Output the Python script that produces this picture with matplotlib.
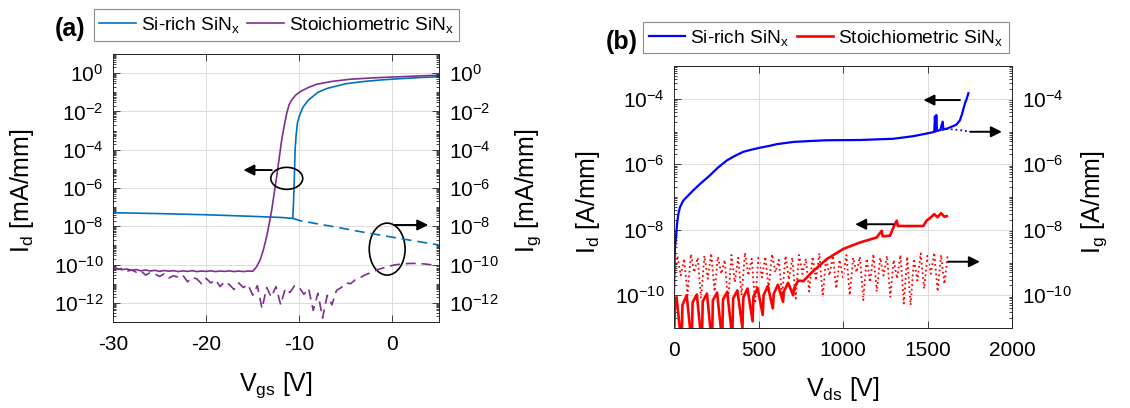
import numpy as np
import matplotlib
matplotlib.use("Agg")
import matplotlib.pyplot as plt
from matplotlib.patches import Ellipse
from matplotlib.ticker import LogLocator, NullFormatter

plt.rcParams['font.family'] = ['Liberation Sans', 'DejaVu Sans']
plt.rcParams['mathtext.fontset'] = 'custom'
plt.rcParams['mathtext.rm'] = 'Liberation Sans'
plt.rcParams['mathtext.it'] = 'Liberation Sans:italic'
plt.rcParams['mathtext.default'] = 'regular'
plt.rcParams['axes.unicode_minus'] = False

# ---------------- (a) transfer curves, Vds fixed ----------------
si_id_vgs = [-30, -25, -20, -15, -12, -10.7, -10.62, -10.55, -10.45, -10.35, -10.2,
             -10.0, -9.6, -9.0, -8.0, -7.0, -5.0, -3.0, -1.0, 1.0, 3.0, 5.0]
si_id = [5.1e-8, 4.6e-8, 4.0e-8, 3.3e-8, 2.9e-8, 2.6e-8, 1.6e-7, 1.6e-6, 1.0e-4, 5.0e-4,
         2.5e-3, 5.6e-3, 1.7e-2, 4.0e-2, 0.10, 0.16, 0.28, 0.37, 0.45, 0.52, 0.59, 0.65]

si_ig_vgs = [-10.7, -9.9, -6.3, -2.8, 0.8, 5.0]
si_ig = [2.6e-8, 1.95e-8, 9.5e-9, 4.6e-9, 2.3e-9, 1.05e-9]

st_id_vgs = [-30, -29.5, -29, -28.5, -28, -27.5, -27, -26.5, -26, -25.5, -25, -24.5, -24,
             -23.5, -23, -22.5, -22, -21.5, -21, -20.5, -20, -19.5, -19, -18.5, -18, -17.5,
             -17, -16.5, -16, -15.5, -15, -14.9, -14.6, -14.2, -13.85, -13.5, -13.2, -12.96,
             -12.43, -11.89, -11.6, -11.35, -11.1, -10.81, -10.4, -9.92, -9.0, -8.13, -6.5,
             -4.55, -2.0, 0.81, 3.0, 5.0]
st_id = [7.6e-11, 6.0e-11, 5.4e-11, 5.9e-11, 5.0e-11, 5.5e-11, 4.7e-11, 5.2e-11, 4.6e-11,
         5.0e-11, 4.4e-11, 4.9e-11, 4.5e-11, 4.8e-11, 4.3e-11, 4.7e-11, 4.4e-11, 4.8e-11,
         4.3e-11, 4.6e-11, 4.4e-11, 4.7e-11, 4.3e-11, 4.6e-11, 4.4e-11, 4.7e-11, 4.3e-11,
         4.6e-11, 4.3e-11, 4.6e-11, 4.5e-11, 5.0e-11, 7.5e-11, 1.74e-10, 6.0e-10, 2.9e-9,
         1.6e-8, 7.1e-8, 3.9e-6, 3.2e-4, 2.0e-3, 7.9e-3, 2.2e-2, 4.0e-2, 7.0e-2, 0.107, 0.18,
         0.263, 0.37, 0.48, 0.57, 0.65, 0.72, 0.78]

st_ig_vgs = np.arange(-30.0, 5.01, 0.5)
st_ig = [7.6e-11, 5.6e-11, 6.3e-11, 4.5e-11, 5.2e-11, 4.0e-11, 4.7e-11, 2.8e-11, 3.8e-11,
         3.2e-11, 2.4e-11, 3.3e-11, 2.0e-11, 2.6e-11, 2.2e-11, 2.8e-11, 1.26e-11, 2.1e-11,
         1.8e-11, 1.0e-11, 1.9e-11, 1.1e-11, 1.6e-11, 7.1e-12, 1.3e-11, 8.9e-12, 5.0e-12,
         1.1e-11, 6.3e-12, 8.9e-12, 2.5e-12, 7.9e-12, 5.0e-13, 6.3e-12, 2.0e-12, 7.1e-12,
         7.9e-13, 5.6e-12, 3.5e-12, 7.9e-12, 6.3e-12, 2.8e-12, 5.6e-12, 4.0e-13, 3.2e-12,
         1.6e-13, 2.5e-12, 7.9e-13, 4.5e-12, 6.3e-12, 1.1e-11, 1.0e-11, 1.6e-11, 2.0e-11,
         2.8e-11, 3.5e-11, 4.5e-11, 5.6e-11, 6.6e-11, 7.9e-11, 9.1e-11, 1.0e-10, 1.07e-10,
         1.12e-10, 1.15e-10, 1.15e-10, 1.12e-10, 1.07e-10, 1.0e-10, 9.3e-11, 8.5e-11]

# ---------------- (b) off-state breakdown sweep ----------------
si_id_vds = [0, 3, 6, 11.8, 18, 25.6, 35.5, 55, 114, 150, 213, 260, 312, 360, 410, 460, 509,
             560, 608, 706, 800, 903, 1101, 1298, 1416, 1515, 1530, 1540, 1544, 1548, 1552,
             1556, 1575, 1590, 1594, 1620, 1653, 1670, 1692, 1705, 1722, 1732, 1742]
si_id_b = [1.3e-10, 1.0e-9, 3.0e-9, 5.8e-9, 1.5e-8, 3.0e-8, 4.9e-8, 7.8e-8, 1.6e-7, 2.4e-7,
           4.6e-7, 7.9e-7, 1.3e-6, 1.8e-6, 2.4e-6, 2.8e-6, 3.2e-6, 3.6e-6, 4.1e-6, 4.8e-6,
           5.1e-6, 5.4e-6, 5.5e-6, 6.0e-6, 7.2e-6, 9.1e-6, 9.5e-6, 9.8e-6, 2.9e-5, 1.0e-5,
           3.2e-5, 1.05e-5, 1.1e-5, 2.0e-5, 1.15e-5, 1.25e-5, 1.48e-5, 1.6e-5, 2.2e-5, 3.5e-5,
           7.4e-5, 1.0e-4, 1.48e-4]

si_ig_vds = [1416, 1515, 1560, 1614, 1680, 1750]
si_ig_b = [7.2e-6, 9.1e-6, 1.05e-5, 1.2e-5, 1.12e-5, 1.0e-5]

st_id_vds = [0, 5, 15, 45, 50, 75, 105, 110, 135, 165, 170, 195, 225, 230, 255, 285, 290,
             315, 345, 350, 375, 405, 410, 435, 465, 470, 495, 525, 530, 555, 585, 590, 615,
             645, 650, 675, 705, 710, 735, 765, 824, 903, 1002, 1101, 1199, 1229, 1235, 1278,
             1298, 1318, 1325, 1400, 1475, 1495, 1520, 1540, 1560, 1580, 1600, 1614]
st_id_b = [3.0e-12, 5.0e-11, 8.9e-11, 3.0e-12, 5.0e-11, 1.0e-10, 3.0e-12, 6.0e-11, 1.05e-10,
           3.0e-12, 6.5e-11, 1.12e-10, 3.0e-12, 7.0e-11, 1.2e-10, 4.0e-12, 7.5e-11, 1.26e-10,
           5.0e-12, 8.0e-11, 1.4e-10, 1.0e-11, 8.5e-11, 1.6e-10, 1.6e-11, 9.0e-11, 1.66e-10,
           2.5e-11, 1.0e-10, 1.9e-10, 4.0e-11, 1.1e-10, 2.1e-10, 6.3e-11, 1.3e-10, 2.4e-10,
           1.0e-10, 1.6e-10, 2.8e-10, 2.7e-10, 5.5e-10, 1.26e-9, 2.6e-9, 4.1e-9, 5.8e-9, 9.3e-9,
           6.3e-9, 6.6e-9, 1.17e-8, 1.9e-8, 1.3e-8, 1.3e-8, 1.3e-8, 1.9e-8, 2.4e-8, 3.0e-8,
           2.4e-8, 3.2e-8, 2.5e-8, 2.6e-8]

st_ig_vds = np.arange(0, 1621, 20)
st_ig_b = [3.2e-10, 1.6e-9, 4.0e-10, 1.3e-9, 1.0e-10, 1.8e-9, 5.0e-10, 1.4e-9, 7.9e-11, 1.6e-9,
           3.2e-10, 1.9e-9, 1.3e-10, 1.5e-9, 4.5e-10, 1.2e-9, 6.3e-11, 1.7e-9, 2.5e-10, 1.4e-9,
           1.0e-10, 2.0e-9, 4.0e-10, 1.3e-9, 5.6e-11, 1.6e-9, 3.5e-10, 1.5e-9, 1.6e-10, 1.8e-9,
           5.0e-10, 1.2e-9, 1.0e-10, 1.6e-9, 3.0e-10, 1.4e-9, 7.9e-11, 1.7e-9, 4.5e-10, 1.3e-9,
           1.3e-10, 1.5e-9, 2.8e-10, 1.9e-9, 8.9e-11, 1.4e-9, 4.0e-10, 1.6e-9, 1.6e-10, 1.2e-9,
           3.5e-10, 1.7e-9, 1.0e-10, 1.4e-9, 5.0e-10, 1.5e-9, 7.1e-11, 1.3e-9, 2.5e-10, 1.8e-9,
           1.3e-10, 1.4e-9, 4.0e-10, 1.6e-9, 8.9e-11, 1.2e-9, 3.2e-10, 1.7e-9, 5.6e-11, 1.5e-9,
           5.0e-11, 1.3e-9, 2.8e-10, 1.9e-9, 1.6e-10, 1.6e-9, 4.5e-10, 2.0e-9, 1.3e-10, 1.7e-9,
           2.2e-10, 1.8e-9]

# tick values
a_xticks = [-30, -20, -10, 0]
a_yticks = [1e-12, 1e-10, 1e-8, 1e-6, 1e-4, 1e-2, 1e0]
b_xticks = [0, 500, 1000, 1500, 2000]
b_yticks = [1e-10, 1e-8, 1e-6, 1e-4]

legend_labels = ['Si-rich SiN$_{x}$', 'Stoichiometric SiN$_{x}$']

C_BLUE_A, C_PURP_A = '#0072BD', '#7E2F8E'
C_BLUE_B, C_RED_B = '#0000FF', '#FF0000'
INK = '#262626'
TICK_FS, LABEL_FS, LEG_FS = 15, 18, 13.8

fig = plt.figure(figsize=(11.3, 4.08), dpi=100)
ax_a = fig.add_axes([113 / 1130, 86 / 408, 326 / 1130, 268 / 408])
ax_b = fig.add_axes([674 / 1130, 80 / 408, 338 / 1130, 262 / 408])


def style(ax, xlim, xticks, ylim, yticks):
    tw = ax.twinx()
    for a in (ax, tw):
        a.set_yscale('log')
        a.set_ylim(*ylim)
        a.set_yticks(yticks)
        a.yaxis.set_minor_locator(LogLocator(base=10, subs=np.arange(1, 10), numticks=100))
        a.yaxis.set_minor_formatter(NullFormatter())
        for s in a.spines.values():
            s.set_color(INK)
            s.set_linewidth(0.7)
    ax.set_xlim(*xlim)
    ax.set_xticks(xticks)
    ax.tick_params(which='both', direction='in', top=True, right=False, colors=INK,
                   labelcolor='k', labelsize=TICK_FS, width=0.6)
    ax.tick_params(which='major', length=5)
    ax.tick_params(which='minor', length=2.5)
    ax.tick_params(axis='x', pad=9)
    ax.tick_params(axis='y', pad=7)
    tw.tick_params(which='both', direction='in', colors=INK, labelcolor='k',
                   labelsize=TICK_FS, width=0.6, pad=7)
    tw.tick_params(which='major', length=5)
    tw.tick_params(which='minor', length=2.5)
    ax.grid(True, which='major', color='#dcdcdc', lw=0.7)
    ax.set_axisbelow(True)
    return tw


def arrow(ax, tail, head):
    ax.annotate('', xy=head, xytext=tail, xycoords='axes fraction',
                textcoords='axes fraction',
                arrowprops=dict(arrowstyle='-|>', color='k', lw=1.4,
                                mutation_scale=16, shrinkA=0, shrinkB=0))


def legend(ax, handles, center):
    leg = ax.legend(handles, legend_labels, loc='center', ncol=2,
                    bbox_to_anchor=center, bbox_transform=fig.transFigure,
                    fontsize=LEG_FS, frameon=True, fancybox=False, edgecolor='#8c8c8c',
                    framealpha=1, handlelength=1.9, handletextpad=0.25, columnspacing=0.4,
                    borderpad=0.3, borderaxespad=0)
    leg.get_frame().set_linewidth(0.8)
    return leg


# ---------------- panel (a) ----------------
tw_a = style(ax_a, (-30, 5), a_xticks, (1e-13, 1e1), a_yticks)
la1, = ax_a.plot(si_id_vgs, si_id, color=C_BLUE_A, lw=1.2)
la2, = ax_a.plot(st_id_vgs, st_id, color=C_PURP_A, lw=1.2)
tw_a.plot(si_ig_vgs, si_ig, color=C_BLUE_A, lw=1.2, dashes=(6, 3.5))
tw_a.plot(st_ig_vgs, st_ig, color=C_PURP_A, lw=1.2, dashes=(6, 3.5))

ax_a.set_xlabel('V$_{gs}$ [V]', fontsize=LABEL_FS, color='k')
ax_a.set_ylabel('I$_{d}$ [mA/mm]', fontsize=LABEL_FS, color='k')
tw_a.set_ylabel('I$_{g}$ [mA/mm]', fontsize=LABEL_FS, color='k')
ax_a.xaxis.set_label_coords(0.5, -0.18)
ax_a.yaxis.set_label_coords(-0.235, 0.49)
tw_a.yaxis.set_label_coords(1.228, 0.49)

tw_a.add_patch(Ellipse((0.533, 0.536), 0.098, 0.082, transform=tw_a.transAxes,
                       fill=False, ec='k', lw=1.2))
tw_a.add_patch(Ellipse((0.841, 0.272), 0.110, 0.194, transform=tw_a.transAxes,
                       fill=False, ec='k', lw=1.2))
arrow(tw_a, (0.487, 0.567), (0.400, 0.567))
arrow(tw_a, (0.862, 0.362), (0.967, 0.362))

legend(ax_a, [la1, la2], (0.2447, 0.9387))
fig.text(0.062, 0.930, '(a)', fontsize=18, fontweight='bold', ha='center', va='center')

# ---------------- panel (b) ----------------
tw_b = style(ax_b, (0, 2000), b_xticks, (1e-11, 1e-3), b_yticks)
tw_b.plot(st_ig_vds, st_ig_b, color=C_RED_B, lw=1.3, ls=':')
tw_b.plot(si_ig_vds, si_ig_b, color=C_BLUE_B, lw=1.3, ls=':')
lb1, = ax_b.plot(si_id_vds, si_id_b, color=C_BLUE_B, lw=1.6)
lb2, = ax_b.plot(st_id_vds, st_id_b, color=C_RED_B, lw=1.9)
ax_b.set_zorder(tw_b.get_zorder() + 1)
ax_b.patch.set_visible(False)

ax_b.set_xlabel('V$_{ds}$ [V]', fontsize=LABEL_FS, color='k')
ax_b.set_ylabel('I$_{d}$ [A/mm]', fontsize=LABEL_FS, color='k')
tw_b.set_ylabel('I$_{g}$ [A/mm]', fontsize=LABEL_FS, color='k')
ax_b.xaxis.set_label_coords(0.5, -0.18)
ax_b.yaxis.set_label_coords(-0.213, 0.48)
tw_b.yaxis.set_label_coords(1.198, 0.48)

arrow(ax_b, (0.846, 0.870), (0.738, 0.870))
arrow(ax_b, (0.876, 0.749), (0.970, 0.749))
arrow(ax_b, (0.649, 0.396), (0.536, 0.396))
arrow(ax_b, (0.811, 0.253), (0.905, 0.253))

legend(ax_b, [lb1, lb2], (0.731, 0.908))
fig.text(0.5504, 0.898, '(b)', fontsize=18, fontweight='bold', ha='center', va='center')

fig.savefig('out.png', dpi=100, facecolor='white')
